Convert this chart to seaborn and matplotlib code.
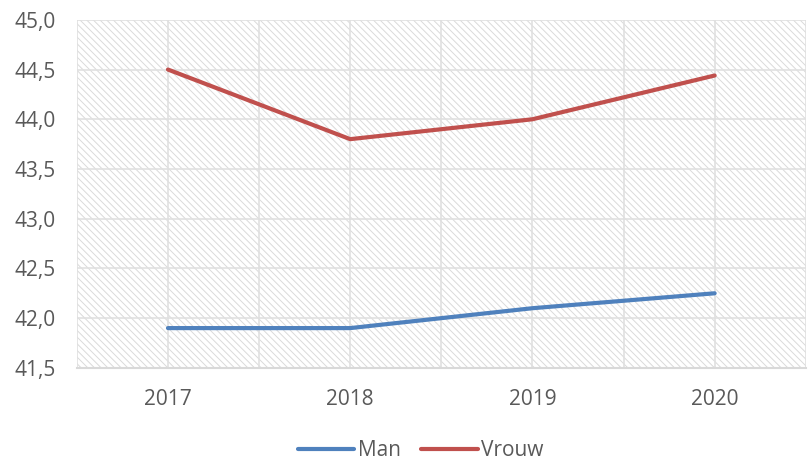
import pandas as pd
import numpy as np
import matplotlib.pyplot as plt
import seaborn as sns
from matplotlib.patches import Rectangle
from matplotlib.ticker import MultipleLocator, FuncFormatter

sns.set_style('white')
plt.rcParams['font.family'] = ['Open Sans', 'DejaVu Sans']
plt.rcParams['hatch.linewidth'] = 0.7

# data
years = ['2017', '2018', '2019', '2020']
man = [41.9, 41.9, 42.1, 42.25]
vrouw = [44.5, 43.8, 44.0, 44.44]

df = pd.DataFrame({
    'jaar': list(range(len(years))) * 2,
    'waarde': man + vrouw,
    'geslacht': ['Man'] * len(years) + ['Vrouw'] * len(years),
})

text_col = '#595959'
grid_col = '#e0e0e0'

fig = plt.figure(figsize=(8.09, 4.61), dpi=100)
ax = fig.add_axes([0.095, 0.202, 0.901, 0.755])

# hatched plot area background
ax.add_patch(Rectangle((0, 0), 1, 1, transform=ax.transAxes, fill=False,
                       hatch='\\' * 5, edgecolor='#dadada', lw=0, zorder=0))

sns.lineplot(data=df, x='jaar', y='waarde', hue='geslacht',
             palette={'Man': '#4f81bd', 'Vrouw': '#c0504d'},
             linewidth=3, ax=ax, legend=False, zorder=3)

ax.set_xlim(-0.5, 3.5)
ax.set_ylim(41.5, 45.0)
ax.set_xticks(range(len(years)))
ax.set_xticklabels(years)
ax.xaxis.set_minor_locator(MultipleLocator(0.5))
ax.yaxis.set_major_locator(MultipleLocator(0.5))
ax.yaxis.set_major_formatter(FuncFormatter(lambda v, p: f'{v:.1f}'.replace('.', ',')))

ax.grid(True, which='both', axis='x', color=grid_col, lw=1.2, zorder=1)
ax.grid(True, which='major', axis='y', color=grid_col, lw=1.2, zorder=1)
ax.set_axisbelow(True)

for s in ['top', 'right', 'left']:
    ax.spines[s].set_visible(False)
ax.spines['bottom'].set_color('#d9d9d9')
ax.spines['bottom'].set_linewidth(1.5)

ax.tick_params(axis='both', which='both', length=0, labelsize=15, colors=text_col)
ax.tick_params(axis='x', pad=15)
ax.tick_params(axis='y', pad=15)
ax.set_xlabel('')
ax.set_ylabel('')

handles = [plt.Line2D([], [], color='#4f81bd', lw=3, solid_capstyle='round'),
           plt.Line2D([], [], color='#c0504d', lw=3, solid_capstyle='round')]
leg = fig.legend(handles, ['Man', 'Vrouw'], loc='center', bbox_to_anchor=(0.52, 0.022),
                 ncol=2, frameon=False, fontsize=15, handlelength=2.7,
                 handletextpad=0.15, columnspacing=1.0)
for t in leg.get_texts():
    t.set_color(text_col)

fig.savefig('out.png', dpi=100)
